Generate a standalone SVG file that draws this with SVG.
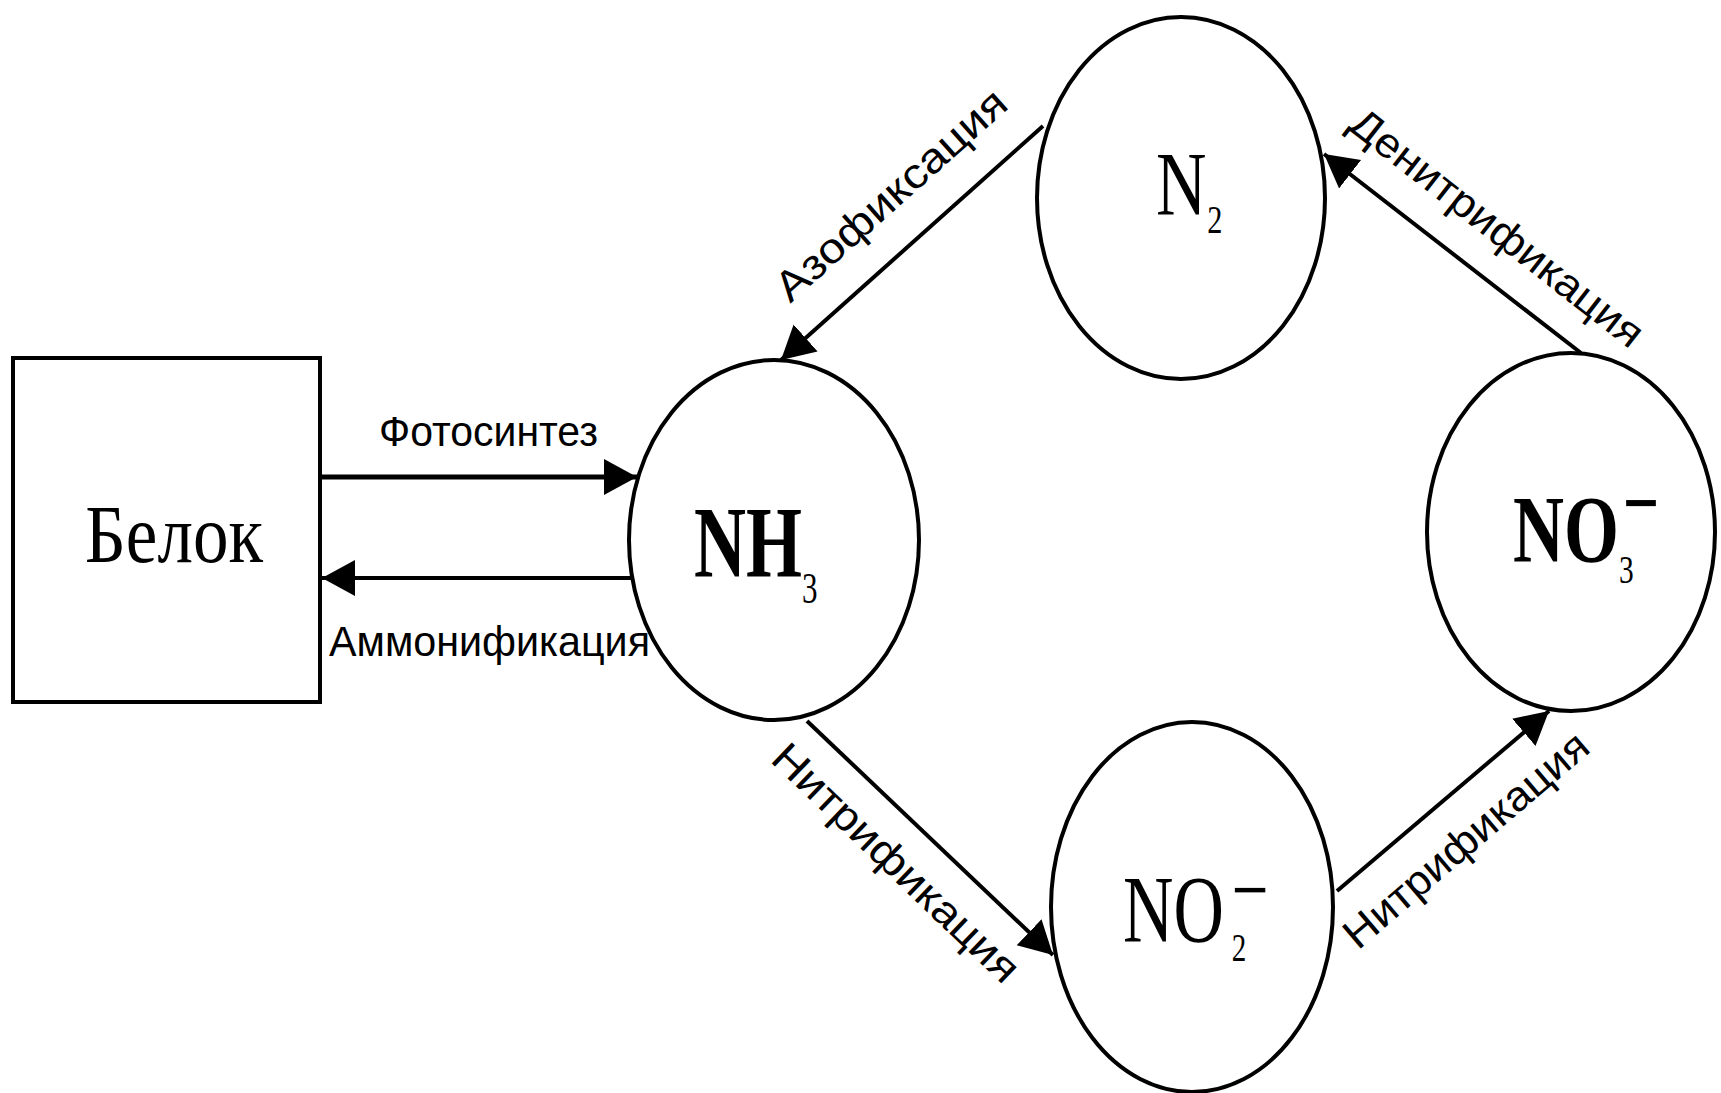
<svg xmlns="http://www.w3.org/2000/svg" width="1721" height="1093" viewBox="0 0 1721 1093">
  <style>
    .shape { fill: #fff; stroke: #000; stroke-width: 4; }
    .edge { fill: none; stroke: #000; stroke-width: 4; }
    .lbl { font-family: "Liberation Sans", Arial, sans-serif; font-size: 42px; fill: #000; }
    .chem { font-family: "Liberation Serif", "Times New Roman", serif; fill: #000; }
  </style>
  <defs>
    <marker id="arr" markerUnits="userSpaceOnUse" markerWidth="36" markerHeight="38" refX="33" refY="18" orient="auto">
      <path d="M0,0 L33,18 L0,36 z" fill="#000"/>
    </marker>
  </defs>
  <rect width="1721" height="1093" fill="#fff"/>

  <!-- connectors and their process labels -->
  <g id="connectors">
    <line class="edge" x1="320" y1="477" x2="637" y2="477" marker-end="url(#arr)" style="stroke-width:5"/>
    <line class="edge" x1="632" y1="578" x2="322" y2="578" marker-end="url(#arr)"/>
    <line class="edge" x1="1043" y1="126" x2="781" y2="360" marker-end="url(#arr)"/>
    <line class="edge" x1="1581" y1="353" x2="1324" y2="154" marker-end="url(#arr)"/>
    <line class="edge" x1="807" y1="721" x2="1053" y2="955" marker-end="url(#arr)"/>
    <line class="edge" x1="1337" y1="891" x2="1549" y2="711" marker-end="url(#arr)"/>

    <text class="lbl" x="379" y="446" textLength="219" lengthAdjust="spacingAndGlyphs">Фотосинтез</text>
    <text class="lbl" x="329" y="656" textLength="321" lengthAdjust="spacingAndGlyphs">Аммонификация</text>
    <text class="lbl" text-anchor="middle" transform="translate(891,195) rotate(-41.8)" y="14" textLength="295" lengthAdjust="spacingAndGlyphs">Азофиксация</text>
    <text class="lbl" text-anchor="middle" transform="translate(1497,228) rotate(38)" y="14" textLength="360" lengthAdjust="spacingAndGlyphs">Денитрификация</text>
    <text class="lbl" text-anchor="middle" transform="translate(896,863) rotate(43.8)" y="14" textLength="325" lengthAdjust="spacingAndGlyphs">Нитрификация</text>
    <text class="lbl" text-anchor="middle" transform="translate(1466,840) rotate(-40.5)" y="14" textLength="308" lengthAdjust="spacingAndGlyphs">Нитрификация</text>
  </g>

  <!-- protein box -->
  <g id="protein">
    <rect class="shape" x="13" y="358" width="307" height="344"/>
    <text class="chem" x="85" y="562" font-size="83" textLength="178" lengthAdjust="spacingAndGlyphs">Белок</text>
  </g>

  <!-- ammonia -->
  <g id="nh3">
    <ellipse class="shape" cx="774" cy="540" rx="145" ry="180"/>
    <text class="chem" font-weight="bold" font-size="102" transform="translate(694,577) scale(0.706,1)">NH<tspan font-size="44" font-weight="normal" dy="26">3</tspan></text>
  </g>

  <!-- nitrogen gas -->
  <g id="n2">
    <ellipse class="shape" cx="1181" cy="198" rx="144" ry="181"/>
    <text class="chem" font-size="92" transform="translate(1156,215) scale(0.76,1)">N<tspan font-size="40" dx="1" dy="18">2</tspan></text>
  </g>

  <!-- nitrate -->
  <g id="no3">
    <ellipse class="shape" cx="1571" cy="532" rx="144" ry="179"/>
    <text class="chem" font-weight="bold" font-size="96" transform="translate(1513,562) scale(0.736,1)">NO<tspan font-size="40" font-weight="normal" dy="21">3</tspan><tspan font-size="87" dx="-15" dy="-51">−</tspan></text>
  </g>

  <!-- nitrite -->
  <g id="no2">
    <ellipse class="shape" cx="1192" cy="907" rx="141" ry="185"/>
    <text class="chem" font-size="96" transform="translate(1123,942) scale(0.727,1)">NO<tspan font-size="40" dx="11" dy="19">2</tspan><tspan font-size="90" dx="-20" dy="-41">−</tspan></text>
  </g>
</svg>
